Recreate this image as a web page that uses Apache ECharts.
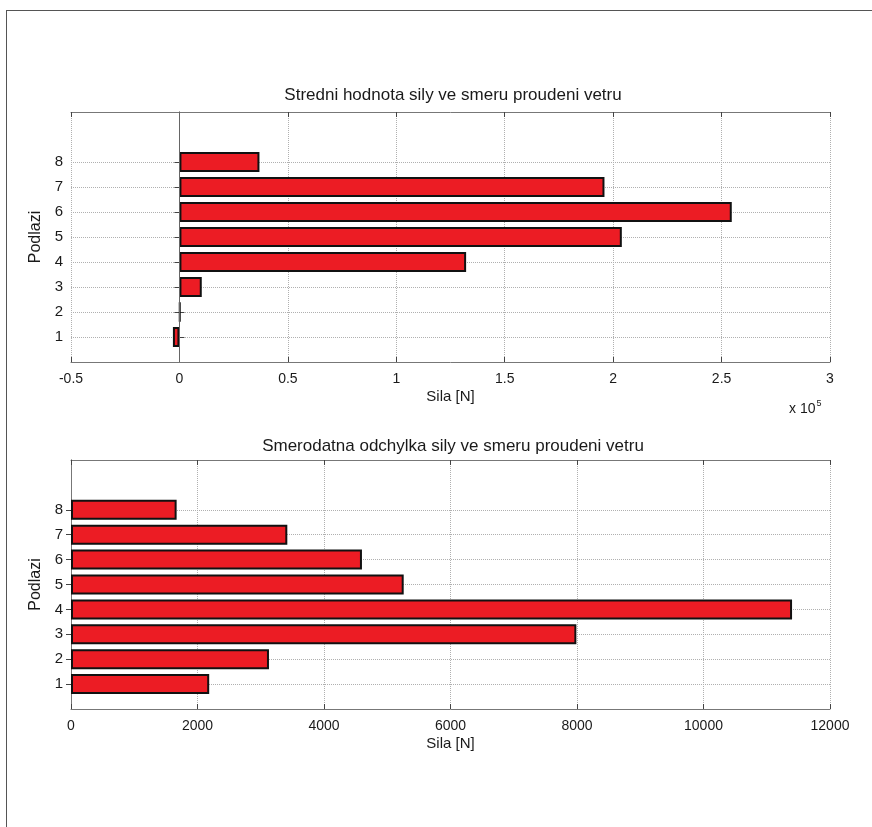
<!DOCTYPE html>
<html>
<head>
<meta charset="utf-8">
<script src="https://cdn.jsdelivr.net/npm/echarts@6/dist/echarts.min.js"></script>
<style>
  html, body { margin: 0; padding: 0; background: #fff; overflow: hidden; }
  #frame { position: absolute; left: 6px; top: 10px; width: 900px; height: 900px; border: 1px solid #555; box-sizing: border-box; }
  #Charts { position: absolute; left: 0; top: 0; width: 872px; height: 827px; }
</style>
</head>
<body>
<div id="frame"></div>
<div id="Charts"></div>
<script>
// podlazi (floors) 1..8
const floors = ['1', '2', '3', '4', '5', '6', '7', '8'];
// slots of the y axis 0..10, only 1..8 carry a label
const ySlots = ['0', '1', '2', '3', '4', '5', '6', '7', '8', '9', '10'];
// stredni hodnota sily [N]
const meanForce = [-3000, 300, 10300, 132200, 204000, 254700, 196000, 36900];
// smerodatna odchylka sily [N]
const stdForce = [2185, 3130, 7990, 11400, 5260, 4600, 3420, 1670];

const titleTop = 'Stredni hodnota sily ve smeru proudeni vetru';
const titleBottom = 'Smerodatna odchylka sily ve smeru proudeni vetru';
const xName = 'Sila [N]';
const yName = 'Podlazi';

const font = 'Liberation Sans, Arial, sans-serif';
const txt = '#1a1a1a';
const boxColor = '#777';

let chart = echarts.init(document.getElementById('Charts'));

const isFloor = function (index) {
  return floors.indexOf(ySlots[index]) >= 0
}

function yAxes(gridIndex) {
  return [
    {
      type: 'category',
      gridIndex: gridIndex,
      data: ySlots,
      boundaryGap: false,
      name: yName,
      nameLocation: 'middle',
      nameGap: 26,
      nameTextStyle: { color: txt, fontSize: 16, fontFamily: font },
      axisLine: { show: true, lineStyle: { color: boxColor } },
      axisTick: { inside: true, length: 5, interval: isFloor, lineStyle: { color: '#444' } },
      axisLabel: { interval: isFloor, color: txt, fontSize: 15, fontFamily: font, margin: 8 },
      splitLine: { show: true, interval: isFloor, lineStyle: { color: '#b0b0b0', type: 'dotted' } }
    },
    {
      type: 'category',
      gridIndex: gridIndex,
      position: 'right',
      data: ySlots,
      boundaryGap: false,
      axisLine: { show: true, lineStyle: { color: boxColor } },
      axisTick: { inside: true, length: 5, interval: isFloor, lineStyle: { color: '#444' } },
      axisLabel: { show: false },
      splitLine: { show: false }
    }
  ]
}

function xAxes(gridIndex, min, max, interval, formatter) {
  return [
    {
      type: 'value',
      gridIndex: gridIndex,
      min: min,
      max: max,
      interval: interval,
      name: xName,
      nameLocation: 'middle',
      nameGap: 27,
      nameTextStyle: { color: txt, fontSize: 15, fontFamily: font },
      axisLine: { show: true, onZero: false, lineStyle: { color: boxColor } },
      axisTick: { show: true, inside: true, length: 5, lineStyle: { color: '#444' } },
      axisLabel: { color: txt, fontSize: 14, fontFamily: font, margin: 10, formatter: formatter },
      splitLine: { show: true, lineStyle: { color: '#b0b0b0', type: 'dotted' } }
    },
    {
      type: 'value',
      gridIndex: gridIndex,
      position: 'top',
      min: min,
      max: max,
      interval: interval,
      axisLine: { show: true, onZero: false, lineStyle: { color: boxColor } },
      axisTick: { show: true, inside: true, length: 5, lineStyle: { color: '#444' } },
      axisLabel: { show: false },
      splitLine: { show: false }
    }
  ]
}

const barStyle = { color: '#ec1c24', borderColor: '#111', borderWidth: 2 };

let option = {
  animation: false,
  backgroundColor: 'transparent',
  title: [
    { text: titleTop, left: 448, top: 82, textAlign: 'center', textStyle: { color: txt, fontSize: 17, fontWeight: 'normal', fontFamily: font } },
    { text: titleBottom, left: 448, top: 433, textAlign: 'center', textStyle: { color: txt, fontSize: 17, fontWeight: 'normal', fontFamily: font } }
  ],
  grid: [
    { left: 71, right: 42, top: 112, height: 250 },
    { left: 71, right: 42, top: 460, height: 249 }
  ],
  xAxis: [
    ...xAxes(0, -50000, 300000, 50000, function (v) { return String(Math.round(v / 1e4) / 10) }),
    ...xAxes(1, 0, 12000, 2000, function (v) { return String(v) })
  ],
  yAxis: [...yAxes(0), ...yAxes(1)],
  graphic: [
    {
      type: 'text',
      left: 789,
      top: 399,
      style: {
        text: '{a|x 10}{b|5}',
        rich: {
          a: { fontSize: 14, fill: txt, fontFamily: font, verticalAlign: 'bottom' },
          b: { fontSize: 9, fill: txt, fontFamily: font, verticalAlign: 'top', padding: [0, 0, 8, 1] }
        }
      }
    }
  ],
  series: [
    {
      name: titleTop,
      type: 'bar',
      xAxisIndex: 0,
      yAxisIndex: 0,
      barWidth: 20,
      itemStyle: barStyle,
      data: floors.map((f, i) => [meanForce[i], f]),
      markLine: {
        silent: true,
        symbol: ['none', 'none'],
        label: { show: false },
        lineStyle: { color: '#666', type: 'solid', width: 1 },
        data: [{ xAxis: 0 }]
      },
      z: 3
    },
    {
      name: titleBottom,
      type: 'bar',
      xAxisIndex: 2,
      yAxisIndex: 2,
      barWidth: 20,
      itemStyle: barStyle,
      data: floors.map((f, i) => [stdForce[i], f]),
      z: 3
    }
  ]
};
chart.setOption(option);
</script>
</body>
</html>
